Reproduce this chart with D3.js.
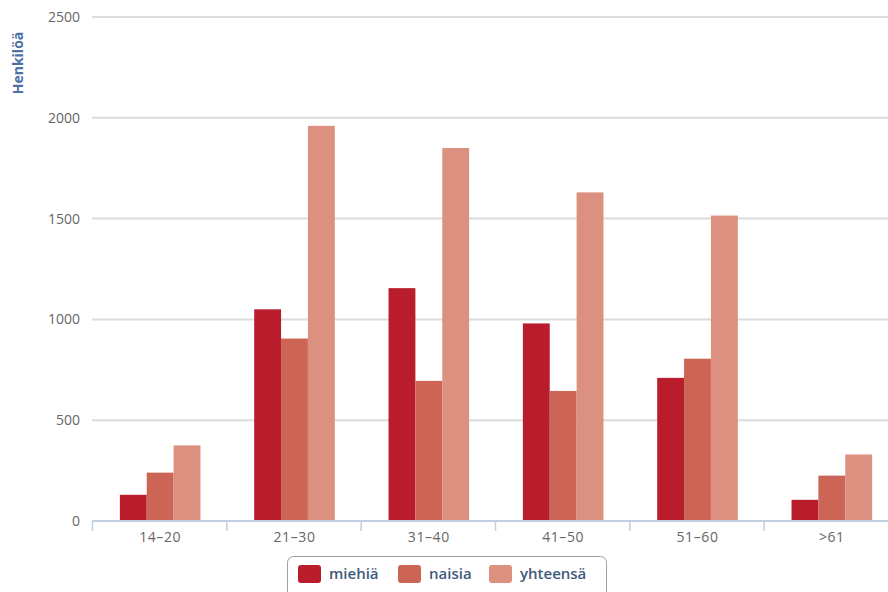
<!DOCTYPE html>
<html>
<head>
<meta charset="utf-8">
<script src="https://cdn.jsdelivr.net/npm/d3@7"></script>
<style>
  body { margin: 0; background: #fff; }
  text { font-family: "Open Sans", "DejaVu Sans", sans-serif; }
</style>
</head>
<body>
<svg id="chart"></svg>
<script>
var categories = ["14–20", "21–30", "31–40", "41–50", "51–60", ">61"];
var seriesNames = ["miehiä", "naisia", "yhteensä"];
var miehia = [130, 1050, 1155, 980, 710, 105];
var naisia = [240, 905, 695, 645, 805, 225];
var yhteensa = [375, 1960, 1850, 1630, 1515, 330];
var yTicks = [0, 500, 1000, 1500, 2000, 2500];
var colors = ["#b91c2b", "#cd6557", "#db9080"];

var width = 888, height = 592;
var margin = { top: 17, right: -10, bottom: 71, left: 92 };

var svg = d3.select("#chart")
    .attr("width", width)
    .attr("height", height);

var x = d3.scaleBand()
    .domain(categories)
    .range([margin.left, width - margin.right]);

var xInner = d3.scaleBand()
    .domain(seriesNames)
    .range([0, x.bandwidth()])
    .paddingInner(0)
    .paddingOuter(1.0);

var y = d3.scaleLinear()
    .domain([0, 2500])
    .range([height - margin.bottom, margin.top]);

// grid lines
svg.append("g")
    .selectAll("line")
    .data(yTicks.slice(1))
    .enter()
    .append("line")
    .attr("x1", margin.left)
    .attr("x2", width)
    .attr("y1", d => y(d))
    .attr("y2", d => y(d))
    .attr("stroke", "#dcdcdc")
    .attr("stroke-width", 2);

// y labels
svg.append("g")
    .selectAll("text")
    .data(yTicks)
    .enter()
    .append("text")
    .attr("x", 80)
    .attr("y", d => y(d))
    .attr("dy", "0.35em")
    .attr("text-anchor", "end")
    .attr("font-size", 14)
    .attr("fill", "#666")
    .text(d => d);

// y title
svg.append("text")
    .attr("transform", "translate(23,63) rotate(-90)")
    .attr("text-anchor", "middle")
    .attr("font-size", 14)
    .attr("font-weight", "bold")
    .attr("fill", "#4d72a3")
    .text("Henkilöä");

// bars
var data = [miehia, naisia, yhteensa];
var groups = svg.append("g")
    .selectAll("g")
    .data(categories)
    .enter()
    .append("g")
    .attr("transform", d => "translate(" + x(d) + ",0)");

groups.selectAll("rect")
    .data((c, i) => seriesNames.map((s, j) => ({ s: s, v: data[j][i], j: j })))
    .enter()
    .append("rect")
    .attr("x", d => xInner(d.s) + 1)
    .attr("y", d => y(d.v))
    .attr("width", xInner.bandwidth())
    .attr("height", d => y(0) - y(d.v))
    .attr("fill", d => colors[d.j]);

// x axis
var xAxis = svg.append("g")
    .attr("transform", "translate(0," + y(0) + ")");
xAxis.append("line")
    .attr("x1", margin.left)
    .attr("x2", width)
    .attr("stroke", "#c0d0e0")
    .attr("stroke-width", 2);
xAxis.selectAll(".tick")
    .data(categories)
    .enter()
    .append("line")
    .attr("x1", d => x(d) + 0.5)
    .attr("x2", d => x(d) + 0.5)
    .attr("y1", 0)
    .attr("y2", 10)
    .attr("stroke", "#c0d0e0")
    .attr("stroke-width", 1.5);
xAxis.selectAll("text")
    .data(categories)
    .enter()
    .append("text")
    .attr("x", d => x(d) + x.bandwidth() / 2 + 1)
    .attr("y", 21)
    .attr("text-anchor", "middle")
    .attr("font-size", 14)
    .attr("letter-spacing", 0.6)
    .attr("fill", "#666")
    .text(d => d);

// legend
var legend = svg.append("g");
legend.append("rect")
    .attr("x", 287.5)
    .attr("y", 556.5)
    .attr("width", 319)
    .attr("height", 50)
    .attr("rx", 6)
    .attr("fill", "#fff")
    .attr("stroke", "#a0a0a0");

var legendX = [298, 398, 489];
seriesNames.forEach(function (s, i) {
    legend.append("rect")
        .attr("x", legendX[i])
        .attr("y", 565)
        .attr("width", 23)
        .attr("height", 18)
        .attr("rx", 3)
        .attr("fill", colors[i]);
    legend.append("text")
        .attr("x", legendX[i] + 31)
        .attr("y", 574)
        .attr("dy", "0.35em")
        .attr("font-size", 15)
        .attr("font-weight", 600)
        .attr("fill", "#3e5a7a")
        .text(s);
});
</script>
</body>
</html>
